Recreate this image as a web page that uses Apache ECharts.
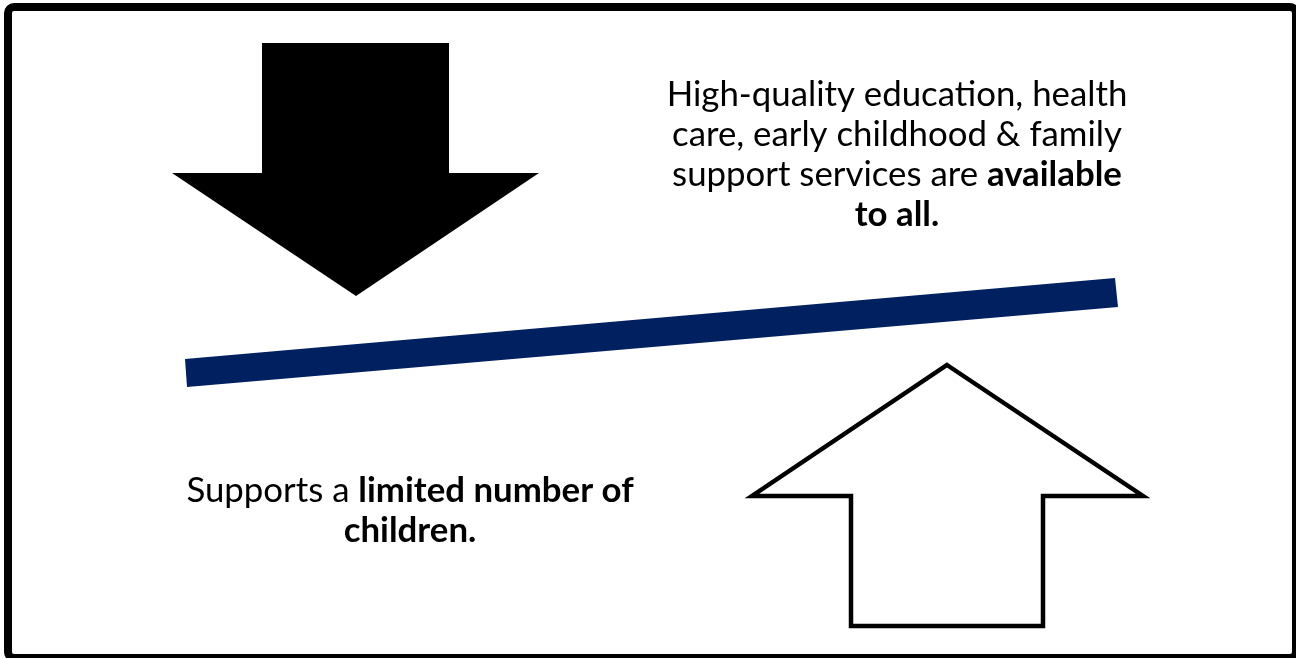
<!DOCTYPE html>
<html>
<head>
<meta charset="utf-8">
<script src="https://cdn.jsdelivr.net/npm/echarts@6/dist/echarts.min.js"></script>
<style>html,body{margin:0;padding:0;background:#fff}#c{width:1296px;height:658px}</style>
</head>
<body>
<div id="c"></div>
<script>
// Diagram geometry, in a 1296 x 658 coordinate space (y grows downwards)
const frameCorners = [[8, 7], [1296, 658]];
const downArrow = [[262, 43], [449, 43], [449, 173], [539, 173], [356, 296], [172, 173], [262, 173]];
const beam = [[185, 359], [1115, 278], [1118, 307], [187, 387]];
const upArrow = [[947, 365], [1143, 496], [1043, 496], [1043, 626], [851, 626], [851, 496], [752, 496]];

// Text blocks: anchor point and rich-text lines
const topTextAnchor = [897, 155];
const topTextLines = [
  [['n', 'High-quality education, health']],
  [['n', 'care, early childhood & family']],
  [['n', 'support services are '], ['b', 'available']],
  [['b', 'to all.']]
];
const bottomTextAnchor = [410, 511];
const bottomTextLines = [
  [['n', 'Supports a '], ['b', 'limited number of']],
  [['b', 'children.']]
];

const FONT = 'Lato';
const FS = 34.8;
const LH = 40;

function richString(lines) {
  return lines.map(l => l.map(([k, t]) => '{' + k + '|' + t + '}').join('')).join('\n');
}
const rich = {
  n: { fontFamily: FONT, fontSize: FS, fontWeight: 'normal', lineHeight: LH, fill: '#000' },
  b: { fontFamily: FONT, fontSize: FS, fontWeight: 'bold', lineHeight: LH, fill: '#000' }
};

const shapes = [
  { pts: downArrow, fill: '#000', stroke: null, lw: 0 },
  { pts: beam, fill: '#002060', stroke: null, lw: 0 },
  { pts: upArrow, fill: '#fff', stroke: '#000', lw: 4.5 }
];
const texts = [
  { at: topTextAnchor, lines: topTextLines },
  { at: bottomTextAnchor, lines: bottomTextLines }
];

const chart = echarts.init(document.getElementById('c'), null, { renderer: 'canvas' });
chart.setOption({
  animation: false,
  backgroundColor: '#fff',
  grid: { left: 0, right: 0, top: 0, bottom: 0 },
  xAxis: { type: 'value', min: 0, max: 1296, show: false },
  yAxis: { type: 'value', min: 0, max: 658, inverse: true, show: false },
  series: [
    {
      type: 'custom',
      coordinateSystem: 'cartesian2d',
      silent: true,
      data: [[frameCorners[0][0], frameCorners[0][1], frameCorners[1][0], frameCorners[1][1]]],
      renderItem: function (params, api) {
        const a = api.coord([api.value(0), api.value(1)]);
        const b = api.coord([api.value(2), api.value(3)]);
        return {
          type: 'rect',
          shape: { x: a[0], y: a[1], width: b[0] - a[0], height: b[1] - a[1], r: 6 },
          style: { fill: 'none', stroke: '#000', lineWidth: 8 }
        };
      },
      z: 1
    },
    {
      type: 'custom',
      coordinateSystem: 'cartesian2d',
      silent: true,
      data: shapes.map((s, i) => [i]),
      renderItem: function (params, api) {
        const s = shapes[params.dataIndex];
        const pts = s.pts.map(p => api.coord(p));
        return {
          type: 'polygon',
          shape: { points: pts },
          style: { fill: s.fill, stroke: s.stroke || 'none', lineWidth: s.lw, lineJoin: 'miter' }
        };
      },
      z: 2
    },
    {
      type: 'custom',
      coordinateSystem: 'cartesian2d',
      silent: true,
      data: texts.map(t => [t.at[0], t.at[1]]),
      renderItem: function (params, api) {
        const t = texts[params.dataIndex];
        const p = api.coord([api.value(0), api.value(1)]);
        return {
          type: 'text',
          x: p[0], y: p[1],
          style: {
            text: richString(t.lines),
            rich: rich,
            align: 'center',
            verticalAlign: 'middle',
            textAlign: 'center',
            textVerticalAlign: 'middle',
            fontFamily: FONT, fontSize: FS, lineHeight: LH, fill: '#000'
          }
        };
      },
      z: 3
    }
  ]
});
</script>
</body>
</html>
